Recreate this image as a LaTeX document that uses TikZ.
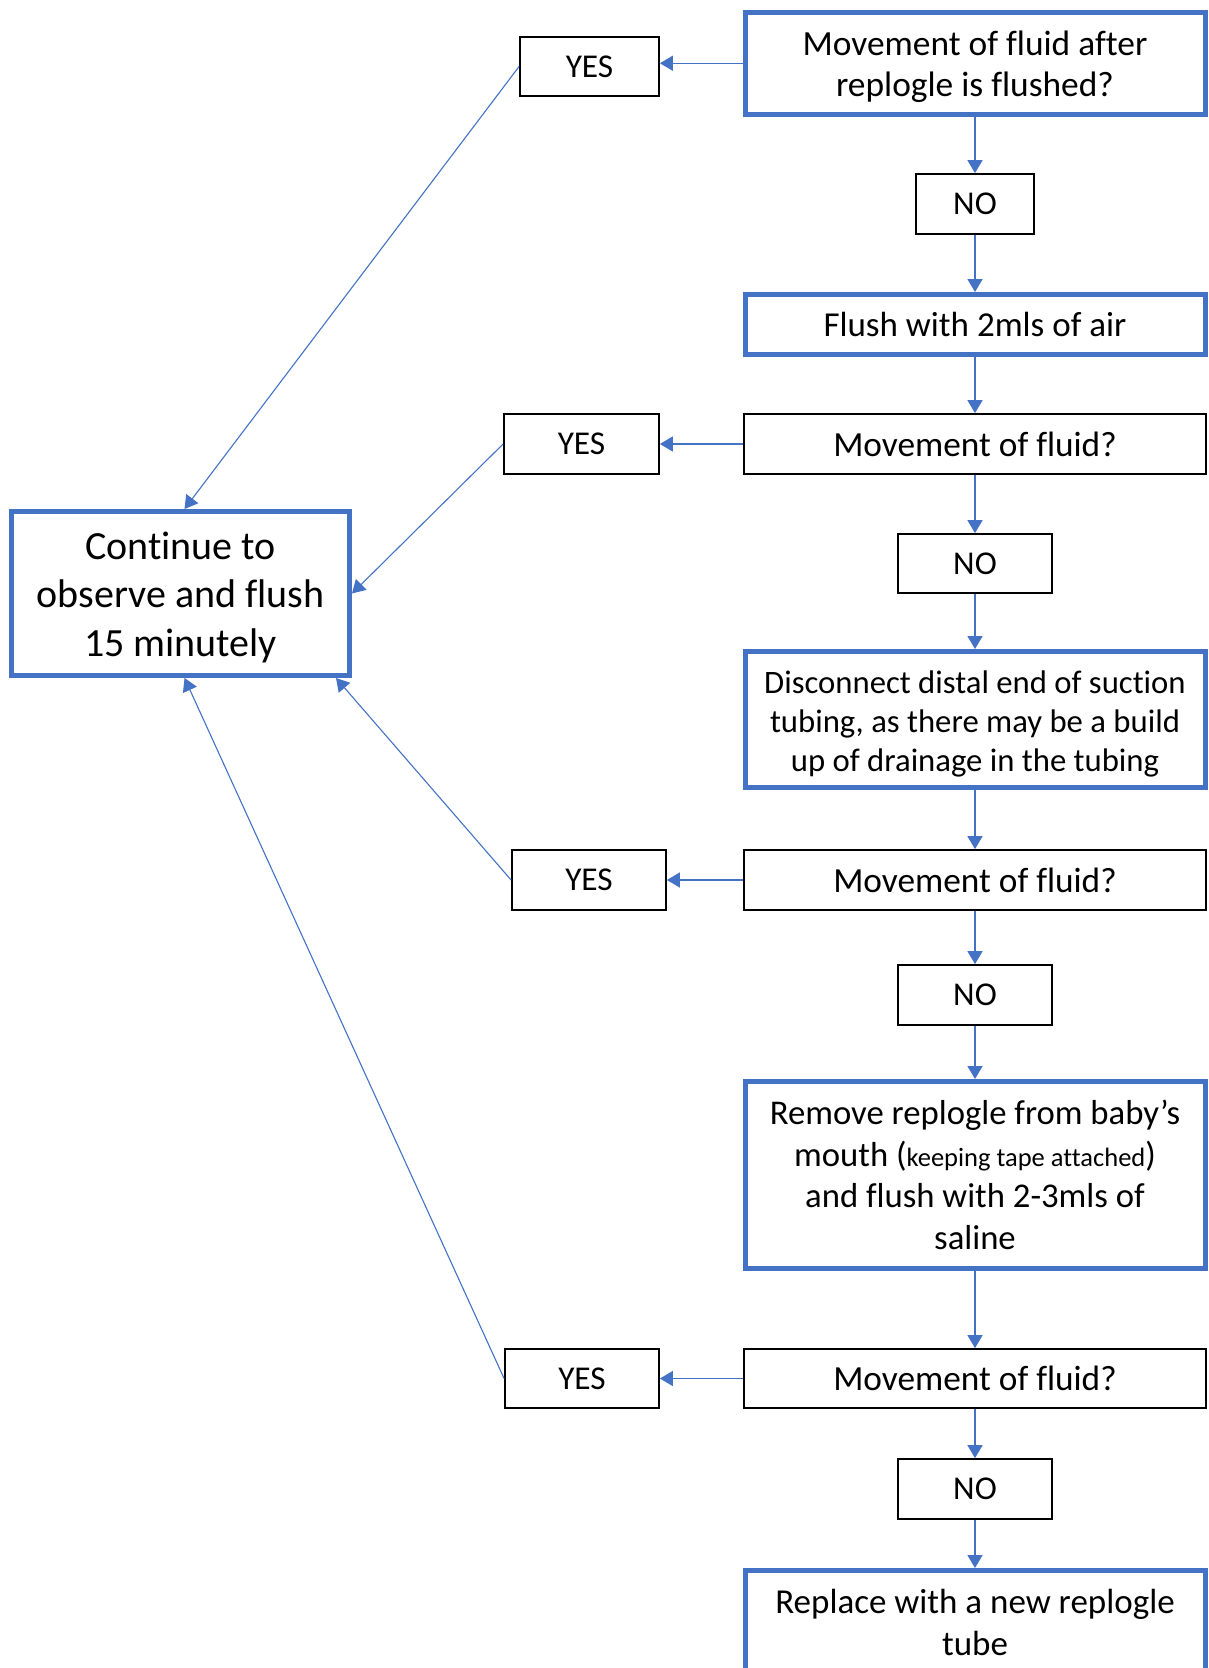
\documentclass[tikz,border=0pt]{standalone}
\usepackage{fontspec}
\setmainfont{Carlito}[Ligatures=NoCommon]
\usetikzlibrary{arrows.meta,calc}
\definecolor{ofblue}{HTML}{4472C4}
\begin{document}
\begin{tikzpicture}[x=1pt,y=-1pt,
  thickbox/.style={draw=ofblue, line width=5pt, fill=white, align=center, inner sep=0pt, font=\fontsize{34.5}{41.5}\selectfont},
  thinbox/.style={draw=black, line width=1.8pt, fill=white, align=center, inner sep=0pt, font=\fontsize{33.3}{40}\selectfont},
  qbox/.style={thinbox, font=\fontsize{35.3}{42}\selectfont},
  conn/.style={draw=ofblue, line width=1.5pt, -{Triangle[width=15pt,length=13pt]}},
  diag/.style={draw=ofblue, line width=1.1pt, -{Triangle[width=15pt,length=13pt]}}]
\useasboundingbox (0,0) rectangle (1208,1668);
\clip (0,0) rectangle (1208,1668);
\fill[white] (0,0) rectangle (1208,1668);

% right column
\node[thickbox, minimum width=460pt, minimum height=102.5pt, font=\fontsize{35.4}{41.5}\selectfont] (q1) at (975,63.25) {\rule{0pt}{32pt}Movement of fluid after\\replogle is flushed?};
\node[thinbox, minimum width=118pt, minimum height=60pt] (no1) at (975,204) {NO};
\node[thickbox, minimum width=460pt, minimum height=60pt, font=\fontsize{35}{41.5}\selectfont] (flush) at (975,324.5) {Flush with 2mls of air};
\node[qbox, minimum width=462pt, minimum height=60pt] (m2) at (975,444) {Movement of fluid?};
\node[thinbox, minimum width=154pt, minimum height=59pt] (no2) at (975,563.5) {NO};
\node[thickbox, minimum width=460pt, minimum height=136pt, font=\fontsize{32.7}{39}\selectfont] (disc) at (975,719.5) {\rule{0pt}{31.5pt}Disconnect distal end of suction\\tubing, as there may be a build\\up of drainage in the tubing};
\node[qbox, minimum width=462pt, minimum height=60pt] (m3) at (975,880) {Movement of fluid?};
\node[thinbox, minimum width=154pt, minimum height=60pt] (no3) at (975,995) {NO};
\node[thickbox, minimum width=460pt, minimum height=187pt, font=\fontsize{34.7}{41.5}\selectfont] (rem) at (975,1175) {Remove replogle from baby’s\\mouth ({\fontsize{26.5}{41.5}\selectfont keeping tape attached})\\and flush with 2-3mls of\\saline};
\node[qbox, minimum width=462pt, minimum height=59pt] (m4) at (975,1378.5) {Movement of fluid?};
\node[thinbox, minimum width=154pt, minimum height=60pt] (no4) at (975,1489) {NO};
\node[thickbox, minimum width=460pt, minimum height=104pt, font=\fontsize{35}{41.5}\selectfont] (repl) at (975,1622.5) {Replace with a new replogle\\tube};

% YES column
\node[thinbox, minimum width=139pt, minimum height=59pt] (yes1) at (589.5,66.5) {YES};
\node[thinbox, minimum width=155pt, minimum height=60pt] (yes2) at (581.5,444) {YES};
\node[thinbox, minimum width=154pt, minimum height=60pt] (yes3) at (589,880) {YES};
\node[thinbox, minimum width=154pt, minimum height=59pt] (yes4) at (582,1378.5) {YES};

% left
\node[thickbox, minimum width=338pt, minimum height=164pt, font=\fontsize{40}{48.5}\selectfont] (cont) at (180.5,593.5) {\rule{0pt}{35pt}Continue to\\observe and flush\\15 minutely};

% vertical flow
\draw[conn] (q1.south) -- (no1.north);
\draw[conn] (no1.south) -- (flush.north);
\draw[conn] (flush.south) -- (m2.north);
\draw[conn] (m2.south) -- (no2.north);
\draw[conn] (no2.south) -- (disc.north);
\draw[conn] (disc.south) -- (m3.north);
\draw[conn] (m3.south) -- (no3.north);
\draw[conn] (no3.south) -- (rem.north);
\draw[conn] (rem.south) -- (m4.north);
\draw[conn] (m4.south) -- (no4.north);
\draw[conn] (no4.south) -- (repl.north);

% yes branches
\draw[conn] (q1.west) -- (q1.west -| yes1.east);
\draw[conn] (m2.west) -- (yes2.east);
\draw[conn] (m3.west) -- (yes3.east);
\draw[conn] (m4.west) -- (yes4.east);

% to continue
\draw[diag] (yes1.west) -- ($(cont.north)+(4,0)$);
\draw[diag] (yes2.west) -- (cont.east);
\draw[diag] (yes3.west) -- ($(cont.south east)+(-16,0)$);
\draw[diag] (yes4.west) -- ($(cont.south)+(4,0)$);
\end{tikzpicture}
\end{document}
